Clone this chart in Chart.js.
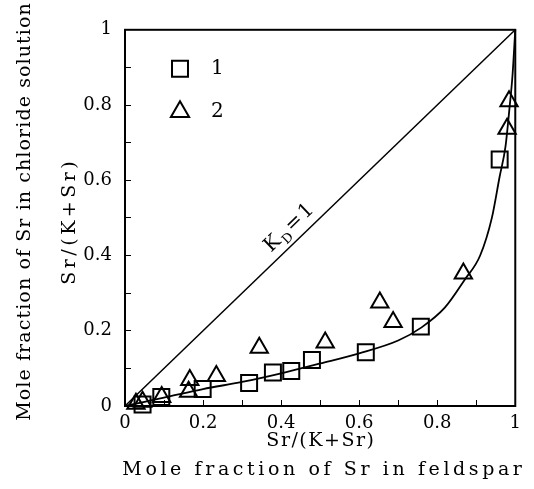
<!DOCTYPE html>
<html>
<head>
<meta charset="utf-8">
<script src="https://cdn.jsdelivr.net/npm/chart.js@4.4.1/dist/chart.umd.min.js"></script>
<style>
  html, body { margin: 0; padding: 0; background: #fff; }
</style>
</head>
<body>
<canvas id="chart" width="534" height="489"></canvas>
<script>
const SERIF = '"DejaVu Serif", "Liberation Serif", serif';

// series 1 (squares)
const set1X = [0.045, 0.093, 0.199, 0.318, 0.379, 0.426, 0.479, 0.617, 0.758, 0.960];
const set1Y = [0.004, 0.024, 0.045, 0.061, 0.089, 0.093, 0.122, 0.143, 0.211, 0.655];

// series 2 (triangles)
const set2X = [0.028, 0.045, 0.094, 0.163, 0.166, 0.234, 0.344, 0.513, 0.653, 0.687, 0.867, 0.979, 0.984];
const set2Y = [0.006, 0.011, 0.024, 0.038, 0.069, 0.080, 0.155, 0.169, 0.275, 0.223, 0.352, 0.737, 0.810];

// fitted curve
const curveX = [0, 0.05, 0.1, 0.2, 0.3, 0.4, 0.5, 0.6, 0.7, 0.76, 0.82, 0.87, 0.91, 0.94, 0.96, 0.975, 0.985, 0.993, 1];
const curveY = [0, 0.011, 0.022, 0.045, 0.064, 0.087, 0.113, 0.14, 0.174, 0.209, 0.262, 0.335, 0.40, 0.50, 0.61, 0.69, 0.79, 0.88, 1];

// Kd = 1 line
const diagX = [0, 1];
const diagY = [0, 1];

const legendNames = ["1", "2"];
const kdLabel = ["K", "D", "=1"];

const xTitle = ["Sr/(K+Sr)", "Mole fraction of Sr in feldspar"];
const yTitle = ["Sr/(K+Sr)", "Mole fraction of Sr in chloride solution"];

function pts(xs, ys) {
  return xs.map((x, i) => ({ x, y: ys[i] }));
}

function tickLabel(v) {
  const k = Math.round(v * 10);
  return k % 2 === 0 ? String(k / 10) : "";
}

function axis(extra) {
  return {
    type: "linear",
    min: 0,
    max: 1,
    grid: { drawOnChartArea: false, drawTicks: true, tickLength: -6, color: "#000", lineWidth: 1 },
    border: { display: true, color: "#000", width: 2 },
    ticks: {
      stepSize: 0.1,
      autoSkip: false,
      maxRotation: 0,
      color: "#000",
      font: { family: SERIF, size: 18 },
      callback: tickLabel
    },
    ...extra
  };
}

function spacedText(ctx, text, x, y, spacing) {
  ctx.letterSpacing = spacing + "px";
  const w = ctx.measureText(text).width - spacing;
  ctx.fillText(text, x - w / 2, y);
  ctx.letterSpacing = "0px";
}

const decor = {
  id: "decor",
  afterDatasetsDraw(chart) {
    const ctx = chart.ctx;
    const a = chart.chartArea;
    const xs = chart.scales.x, ys = chart.scales.y;
    ctx.save();

    // frame
    ctx.strokeStyle = "#000";
    ctx.lineWidth = 2;
    ctx.strokeRect(a.left, a.top, a.right - a.left, a.bottom - a.top);

    // Kd = 1 label along the diagonal
    const ang = Math.atan2(ys.getPixelForValue(1) - ys.getPixelForValue(0), xs.getPixelForValue(1) - xs.getPixelForValue(0));
    ctx.translate(xs.getPixelForValue(0.39), ys.getPixelForValue(0.39));
    ctx.rotate(ang);
    ctx.fillStyle = "#000";
    ctx.textBaseline = "alphabetic";
    ctx.textAlign = "left";
    ctx.letterSpacing = "2px";
    ctx.font = "20px " + SERIF;
    let cx = 0;
    ctx.fillText(kdLabel[0], cx, -9);
    cx += ctx.measureText(kdLabel[0]).width;
    ctx.font = "13px " + SERIF;
    ctx.fillText(kdLabel[1], cx, -4);
    cx += ctx.measureText(kdLabel[1]).width;
    ctx.font = "20px " + SERIF;
    ctx.fillText(kdLabel[2], cx, -9);
    ctx.letterSpacing = "0px";
    ctx.restore();

    // legend
    ctx.save();
    const markers = chart.data.datasets.slice(2);
    markers.forEach((ds, i) => {
      const mx = a.left + 55, my = a.top + 39 + i * 43;
      ctx.strokeStyle = "#000";
      ctx.fillStyle = "rgba(0,0,0,0)";
      ctx.lineWidth = 2;
      Chart.helpers.drawPoint(ctx, { pointStyle: ds.pointStyle, radius: ds.pointStyle === "rect" ? 11.3 : 10.5, borderWidth: 2, rotation: 0 }, mx, my);
      ctx.fillStyle = "#000";
      ctx.font = "20px " + SERIF;
      ctx.textAlign = "left";
      ctx.textBaseline = "middle";
      ctx.fillText(legendNames[i], mx + 31, my);
    });
    ctx.restore();

    // axis titles
    ctx.save();
    ctx.fillStyle = "#000";
    ctx.textAlign = "left";
    ctx.textBaseline = "middle";
    ctx.font = "19px " + SERIF;
    const midX = (a.left + a.right) / 2;
    spacedText(ctx, xTitle[0], midX, 441, 1.5);
    spacedText(ctx, xTitle[1], midX + 2, 470, 3.6);
    ctx.translate(70, 223);
    ctx.rotate(-Math.PI / 2);
    spacedText(ctx, yTitle[0], 0, 0, 3.5);
    ctx.rotate(Math.PI / 2);
    ctx.translate(-45, -11);
    ctx.rotate(-Math.PI / 2);
    spacedText(ctx, yTitle[1], 0, 0, 1.1);
    ctx.restore();
  }
};

new Chart(document.getElementById("chart"), {
  type: "scatter",
  data: {
    datasets: [
      { label: "Kd=1", data: pts(diagX, diagY), showLine: true, borderColor: "#000", borderWidth: 1.5, pointRadius: 0, clip: false },
      { label: "fit", data: pts(curveX, curveY), showLine: true, borderColor: "#000", borderWidth: 1.8, pointRadius: 0, cubicInterpolationMode: "monotone", clip: false },
      { label: "1", data: pts(set1X, set1Y), pointStyle: "rect", pointRadius: 11.3, borderColor: "#000", borderWidth: 2, backgroundColor: "rgba(0,0,0,0)", clip: false },
      { label: "2", data: pts(set2X, set2Y), pointStyle: "triangle", pointRadius: 10, borderColor: "#000", borderWidth: 2, backgroundColor: "rgba(0,0,0,0)", clip: false }
    ]
  },
  options: {
    responsive: false,
    animation: false,
    devicePixelRatio: 1,
    layout: { padding: { top: 20, right: 18, left: 0, bottom: 0 } },
    plugins: { legend: { display: false }, tooltip: { enabled: false } },
    scales: {
      x: axis({
        position: "bottom",
        ticks: { ...axis().ticks, padding: 13 },
        afterFit: (s) => { s.height = 83; }
      }),
      y: axis({
        position: "left",
        ticks: { ...axis().ticks, padding: 19 },
        afterFit: (s) => { s.width = 125; }
      })
    }
  },
  plugins: [decor]
});
</script>
</body>
</html>
